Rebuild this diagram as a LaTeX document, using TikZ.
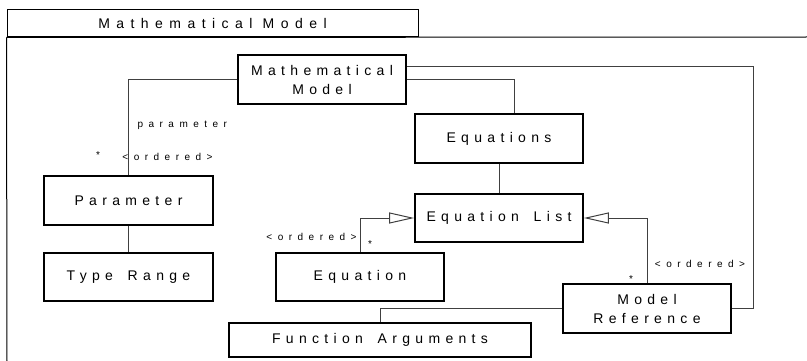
\documentclass[tikz,border=0pt]{standalone}
\usepackage{fontspec}
\setmainfont{Liberation Sans}
\newfontfamily\clsfont[LetterSpace=38,WordSpace=1.6]{Liberation Sans}
\newfontfamily\tabfont[LetterSpace=46]{Liberation Sans}
\newfontfamily\lblfont[LetterSpace=55]{Liberation Sans}
\usetikzlibrary{arrows.meta}

\begin{document}
\begin{tikzpicture}[x=1pt,y=-1pt,line width=1pt,
  cls/.style={draw,line width=1.6pt,minimum width=168pt,minimum height=48pt,inner sep=0pt,align=center,font=\clsfont\fontsize{14}{19}\selectfont},
  lbl/.style={inner sep=0pt,font=\lblfont\fontsize{10}{12}\selectfont},
  link/.style={draw=black!75,line width=1pt},
  gen/.style={link,-{Triangle[open,length=25pt,width=11pt]}}]
  \useasboundingbox (0,0) rectangle (807,361);
  % marco
  \node[draw,minimum width=411pt,minimum height=27pt,inner sep=0pt,font=\tabfont\fontsize{14}{19}\selectfont] (tab) at (212.5,23.5) {Mathematical Model};
  \draw (tab.south west) -- (7,361);
  \draw (tab.south west) -- (807,37);
  % clases
  \node[cls,minimum height=49pt] (mm) at (322,79.5) {Mathematical\\Model};
  \node[cls,minimum width=169pt,minimum height=49pt] (par) at (128.5,200.5) {Parameter};
  \node[cls,minimum width=169pt] (tr) at (128.5,277) {Type Range};
  \node[cls,minimum height=49pt] (eqs) at (499,138.5) {Equations};
  \node[cls] (eql) at (499,218) {Equation List};
  \node[cls] (eq) at (360,277) {Equation};
  \node[cls,minimum height=49pt] (mr) at (647,308.5) {Model\\Reference};
  \node[cls,minimum width=302pt,minimum height=34pt] (fa) at (380,340) {Function Arguments};
  % enlaces
  \draw[link] (mm.west) -| (par.north);
  \draw[link] (mm.east) -| ([xshift=15pt]eqs.north);
  \coordinate (esq) at (753,67);
  \draw[link] (mm.east |- esq) -- (esq) |- (mr.east);
  \draw[link] (par) -- (tr);
  \draw[link] (eqs) -- (eql);
  \draw[gen] (eq.north) |- (eql.west);
  \draw[gen] (mr.north) |- (eql.east);
  \draw[link] (mr.west) -| (fa.north);
  % etiquetas
  \node[lbl,anchor=west] (rol) at (137,125) {parameter};
  \node[lbl] (m1) at (98,155) {*};
  \node[lbl] (o1) at (167.5,157) {<ordered>};
  \node[lbl] (o2) at (311.5,237) {<ordered>};
  \node[lbl] (m2) at (370,244) {*};
  \node[lbl] (o3) at (700,264) {<ordered>};
  \node[lbl] (m3) at (631,279) {*};
\end{tikzpicture}
\end{document}
